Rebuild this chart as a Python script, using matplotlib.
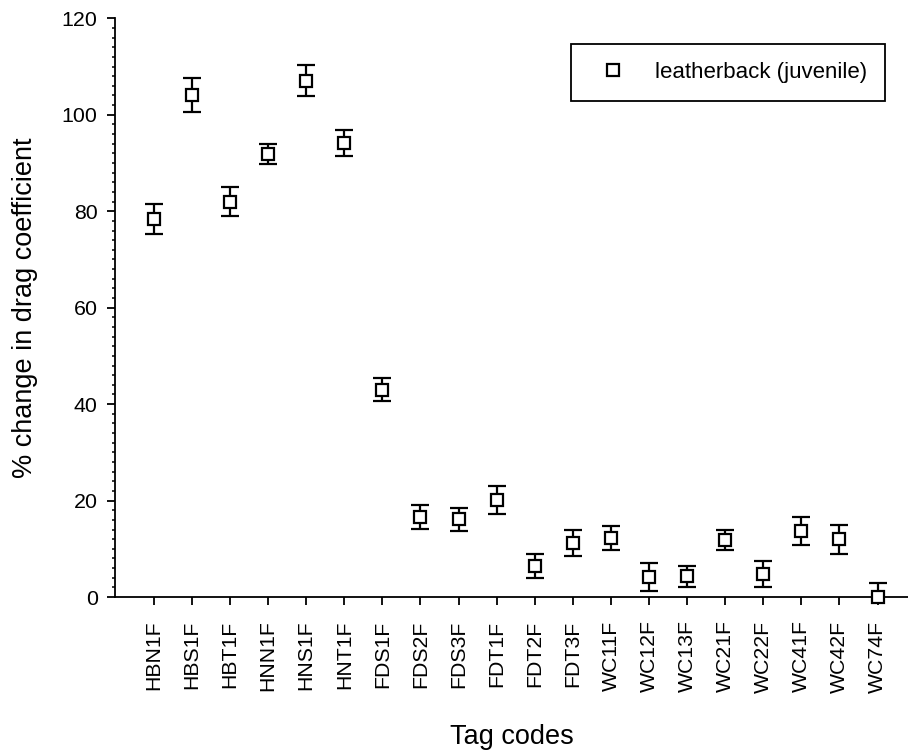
import numpy as np
import matplotlib
matplotlib.use("Agg")
import matplotlib.pyplot as plt
from matplotlib.ticker import MultipleLocator

plt.rcParams['font.family'] = ['Liberation Sans', 'DejaVu Sans']

tags = ['HBN1F', 'HBS1F', 'HBT1F', 'HNN1F', 'HNS1F', 'HNT1F', 'FDS1F', 'FDS2F',
        'FDS3F', 'FDT1F', 'FDT2F', 'FDT3F', 'WC11F', 'WC12F', 'WC13F', 'WC21F',
        'WC22F', 'WC41F', 'WC42F', 'WC74F']
drag_change = [78.3, 104.1, 82.0, 91.9, 107.1, 94.2, 43.0, 16.6,
               16.1, 20.1, 6.4, 11.2, 12.3, 4.2, 4.3, 11.8,
               4.8, 13.7, 12.0, 0.0]
drag_err = [3.1, 3.5, 3.0, 2.1, 3.2, 2.7, 2.35, 2.55,
            2.4, 2.9, 2.55, 2.7, 2.45, 2.9, 2.15, 2.0,
            2.7, 3.0, 3.0, 2.9]

fig = plt.figure(figsize=(9.08, 7.51), dpi=100)
ax = fig.add_axes([0.1267, 0.205, 0.8733, 0.7706])

x = np.arange(len(tags))
cont = ax.errorbar(x, drag_change, yerr=drag_err, fmt='s', mfc='white', mec='black',
                   ms=9, mew=1.6, ecolor='black', elinewidth=1.6, capsize=6.4,
                   capthick=1.6, color='black', label='leatherback (juvenile)')
cont[0].set_clip_on(False)
cont[0].set_zorder(5)

ax.set_xlim(-1.02, 19.8)
ax.set_ylim(0, 120)
ax.set_xticks(x)
ax.set_xticklabels(tags, rotation=90, fontsize=15.3)
ax.yaxis.set_major_locator(MultipleLocator(20))
ax.yaxis.set_minor_locator(MultipleLocator(2))
ax.tick_params(axis='y', which='major', length=5.5, width=1.3, labelsize=15.4, pad=7)
ax.tick_params(axis='y', which='minor', length=2.5, width=1.1)
ax.tick_params(axis='x', which='major', length=5.8, width=1.3, pad=11)

for side in ['top', 'right']:
    ax.spines[side].set_visible(False)
for side in ['left', 'bottom']:
    ax.spines[side].set_linewidth(1.3)

ax.set_ylabel('% change in drag coefficient', fontsize=19.5, labelpad=17)
ax.set_xlabel('Tag codes', fontsize=19.5, labelpad=23)

leg = ax.legend(handles=[cont[0]], labels=['leatherback (juvenile)'], loc='upper right',
                bbox_to_anchor=(0.971, 0.9556), fontsize=16, frameon=True, fancybox=False,
                edgecolor='black', handletextpad=0.75, borderpad=0.8, borderaxespad=0,
                handlelength=2.25, markerscale=1.0, framealpha=1)
leg.get_frame().set_linewidth(1.3)

fig.savefig('out.png', dpi=100)
